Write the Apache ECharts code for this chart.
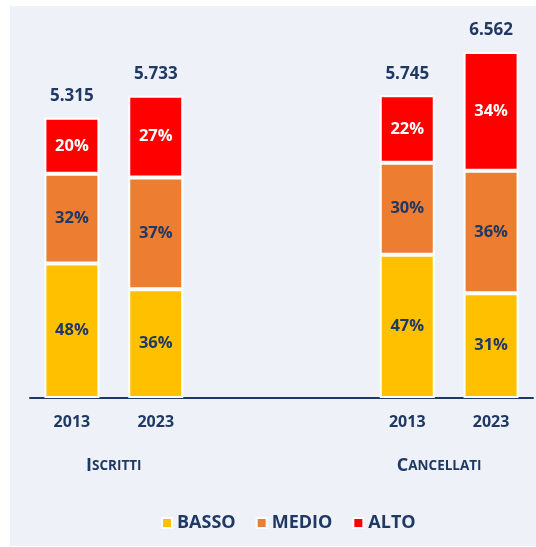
<!DOCTYPE html>
<html>
<head>
<meta charset="utf-8">
<script src="https://cdn.jsdelivr.net/npm/echarts@6/dist/echarts.min.js"></script>
<style>
  html, body { margin: 0; padding: 0; background: #fff; }
  #chart { width: 536px; height: 547px; }
</style>
</head>
<body>
<div id="chart"></div>
<script>
// categorie (due anni per gruppo, con due slot vuoti in mezzo)
const years = ['2013', '2023', ' ', '  ', '2013', '2023'];
const groups = ['Iscritti', '', 'Cancellati'];

// totali e segmenti (valori stimati dalle altezze delle barre)
const totals = [5315, 5733, null, null, 5745, 6562];
const basso = [2551, 2064, null, null, 2717, 1986];
const medio = [1701, 2121, null, null, 1747, 2326];
const alto = [1063, 1548, null, null, 1281, 2250];

// etichette percentuali come nel grafico
const bassoPct = ['48%', '36%', '', '', '47%', '31%'];
const medioPct = ['32%', '37%', '', '', '30%', '36%'];
const altoPct = ['20%', '27%', '', '', '22%', '34%'];

const NAVY = '#1F3864';
const FONT = '"Open Sans", "Noto Sans", sans-serif';

function barSeries(name, values, labels, color, labelColor) {
    return {
        name,
        type: 'bar',
        stack: 'tot',
        barWidth: 55,
        data: values.map(v => v == null ? '-' : v),
        itemStyle: { color, borderColor: '#fff', borderWidth: 2 },
        label: {
            show: true,
            position: 'inside',
            color: labelColor,
            fontFamily: FONT,
            fontWeight: 'bold',
            fontSize: 16.5,
            formatter: (p) => labels[p.dataIndex]
        }
    };
}

const chart = echarts.init(document.getElementById('chart'));

chart.setOption({
    backgroundColor: '#fff',
    animation: false,
    graphic: [{
        type: 'rect',
        z: -10,
        shape: { x: 10, y: 6, width: 526, height: 540 },
        style: { fill: '#EEF2F8' }
    }],
    grid: { left: 30, right: 3, top: 29, bottom: 149 },
    legend: {
        bottom: 10,
        left: 156,
        itemWidth: 10,
        itemHeight: 10,
        itemGap: 20,
        icon: 'rect',
        data: ['BASSO', 'MEDIO', 'ALTO'],
        textStyle: { color: NAVY, fontFamily: FONT, fontWeight: 'bold', fontSize: 18 }
    },
    xAxis: [{
        type: 'category',
        data: years,
        axisLine: { lineStyle: { color: NAVY, width: 2 } },
        axisTick: { show: false },
        axisLabel: { color: NAVY, fontFamily: FONT, fontWeight: 'bold', fontSize: 16, margin: 16, interval: 0 }
    }, {
        type: 'category',
        data: groups,
        position: 'bottom',
        axisLine: { show: false },
        axisTick: { show: false },
        axisLabel: {
            margin: 59,
            interval: 0,
            formatter: (v) => {
                if (!v) return '';
                const pad = v === 'Cancellati' ? 'r' : 'n';
                return '{big_' + pad + '|' + v[0].toUpperCase() + '}{small_' + pad + '|' + v.slice(1).toUpperCase() + '}';
            },
            rich: {
                big_n: { color: NAVY, fontFamily: FONT, fontWeight: 'bold', fontSize: 18 },
                small_n: { color: NAVY, fontFamily: FONT, fontWeight: 'bold', fontSize: 13.5 },
                big_r: { color: NAVY, fontFamily: FONT, fontWeight: 'bold', fontSize: 18 },
                small_r: { color: NAVY, fontFamily: FONT, fontWeight: 'bold', fontSize: 13.5, padding: [0, 20, 0, 0] }
            }
        }
    }],
    yAxis: {
        type: 'value',
        min: 0,
        max: 7000,
        show: false,
        splitLine: { show: false }
    },
    series: [
        barSeries('BASSO', basso, bassoPct, '#FFC000', NAVY),
        barSeries('MEDIO', medio, medioPct, '#ED7D31', NAVY),
        barSeries('ALTO', alto, altoPct, '#FF0000', '#fff'),
        {
            name: 'totale',
            type: 'scatter',
            symbolSize: 0,
            itemStyle: { color: NAVY, opacity: 1 },
            data: totals.map(v => v == null ? '-' : v),
            label: {
                show: true,
                position: 'top',
                distance: 13,
                color: NAVY,
                fontFamily: FONT,
                fontWeight: 'bold',
                fontSize: 17,
                formatter: (p) => p.value.toLocaleString('it-IT')
            }
        }
    ]
});
</script>
</body>
</html>
